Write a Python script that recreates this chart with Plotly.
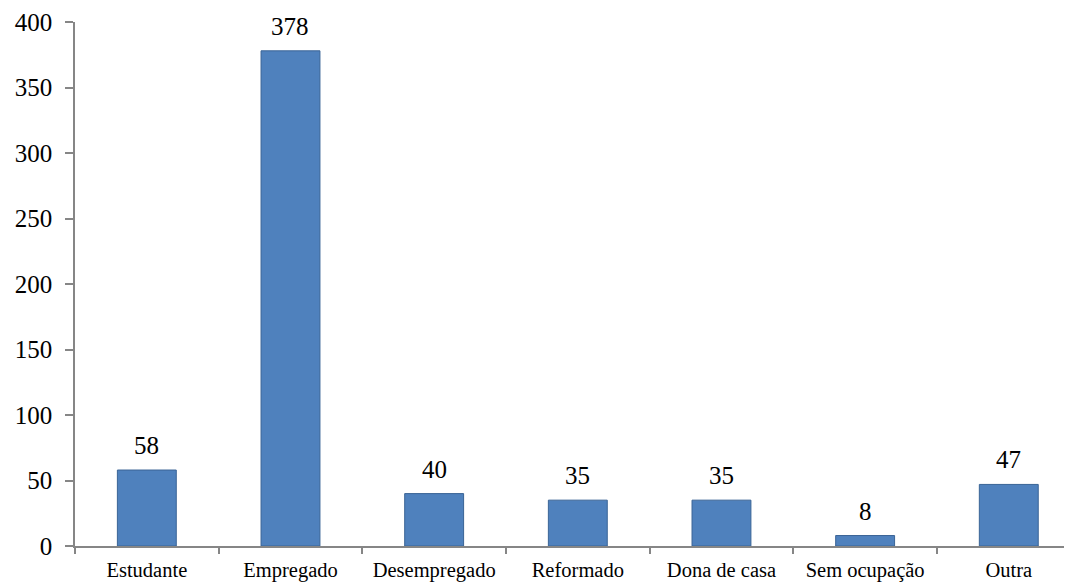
import plotly.graph_objects as go

categories = ["Estudante", "Empregado", "Desempregado", "Reformado", "Dona de casa", "Sem ocupação", "Outra"]
values = [58, 378, 40, 35, 35, 8, 47]
y_ticks = [0, 50, 100, 150, 200, 250, 300, 350, 400]

FONT = "Liberation Serif"

fig = go.Figure()
fig.add_trace(go.Bar(
    x=categories, y=values, width=0.41,
    marker=dict(color="#4F81BD", line=dict(color="#3A6496", width=1)),
    hoverinfo="skip",
))

for c, v in zip(categories, values):
    fig.add_annotation(x=c, y=v, text=str(v), showarrow=False, yanchor="bottom",
                       yshift=9, font=dict(family=FONT, size=25, color="#000000"))

fig.update_layout(
    width=1072, height=585,
    margin=dict(l=67, r=8, t=14, b=47),
    plot_bgcolor="white", paper_bgcolor="white",
    showlegend=False,
    font=dict(family=FONT, color="#000000"),
)
fig.update_xaxes(
    range=[-0.5, 6.44], showgrid=False, showline=True, linecolor="#868686", linewidth=1.5,
    ticks="outside", tickson="boundaries", ticklen=6, tickcolor="#868686", tickwidth=1.5,
    tickfont=dict(family=FONT, size=20.5, color="#000000"), automargin=False,
    ticklabelstandoff=5,
)
fig.update_yaxes(
    range=[0, 400], tickvals=y_ticks, showgrid=False, zeroline=False, showline=True,
    linecolor="#868686", linewidth=1.5, ticks="outside", ticklen=8, tickcolor="#868686",
    tickwidth=1.5, tickfont=dict(family=FONT, size=25, color="#000000"),
    ticklabelstandoff=8, automargin=False,
)

fig.write_html("out.html")
